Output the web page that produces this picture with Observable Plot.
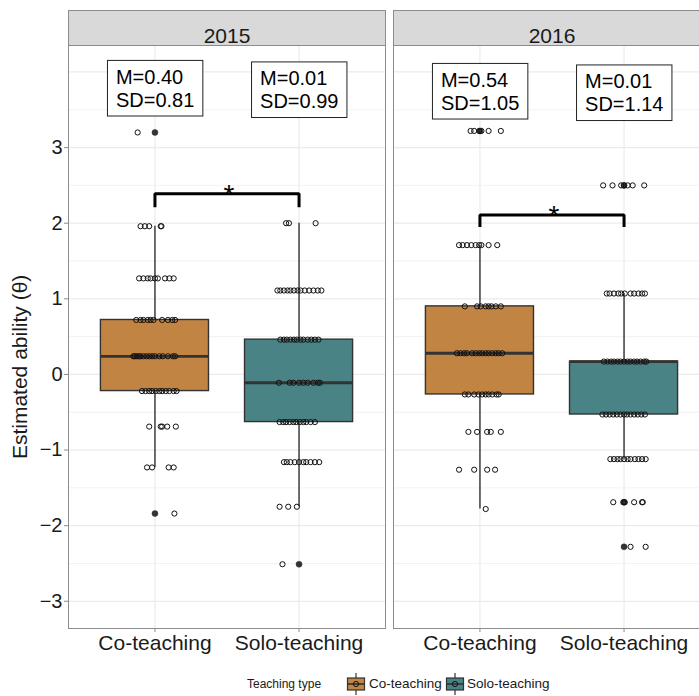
<!DOCTYPE html>
<html>
<head>
<meta charset="utf-8">
<script src="https://cdn.jsdelivr.net/npm/d3@7"></script>
<script src="https://cdn.jsdelivr.net/npm/@observablehq/plot@0.6"></script>
<style>
  html, body { margin: 0; padding: 0; background: #fff; overflow: hidden; }
  #chart { width: 699px; height: 668px; overflow: hidden; }
  #legend { position: relative; width: 699px; height: 28px; font-family: "Liberation Sans", Arial, sans-serif; color: #1a1a1a; }
  #legend span { position: absolute; white-space: nowrap; line-height: 16px; }
  #legend svg { position: absolute; }
</style>
</head>
<body>
<div id="chart"></div>
<div id="legend"></div>
<script>
// ---------- data ----------
const years = ["2015", "2016"];
const types = ["Co-teaching", "Solo-teaching"];
const typeColors = ["#C18442", "#4A8385"];
const yTicks = [-3, -2, -1, 0, 1, 2, 3];
const yMajorGrid = [-3, -2, -1, 0, 1, 2, 3, 4];
const yMinorGrid = [-2.5, -1.5, -0.5, 0.5, 1.5, 2.5, 3.5];

// box statistics, one entry per panel/group
const groupYear = ["2015", "2015", "2016", "2016"];
const groupType = ["Co-teaching", "Solo-teaching", "Co-teaching", "Solo-teaching"];
const whiskerLow = [-1.23, -1.75, -1.78, -1.12];
const q1 = [-0.22, -0.63, -0.265, -0.53];
const median = [0.24, -0.11, 0.28, 0.17];
const q3 = [0.72, 0.46, 0.90, 0.17];
const whiskerHigh = [1.96, 2.00, 1.71, 1.07];
const outliers = [[3.20, -1.84], [-2.51], [3.22], [2.50, -1.69, -2.28]];
const meanLabels = ["M=0.40", "M=0.01", "M=0.54", "M=0.01"];
const sdLabels = ["SD=0.81", "SD=0.99", "SD=1.05", "SD=1.14"];
const labelY = [3.79, 3.77, 3.75, 3.73];

// jittered observations: [ability level, horizontal jitter offsets]
const jitter2015Co = [
  [3.20, [-0.12]],
  [1.96, [-0.10, -0.07, -0.04, 0.04, 0.045]],
  [1.27, [-0.11, -0.08, -0.05, -0.03, 0, 0.02, 0.07, 0.10, 0.13]],
  [0.72, [-0.13, -0.10, -0.08, -0.05, -0.03, -0.01, 0.05, 0.09, 0.12, 0.14]],
  [0.24, [-0.15, -0.14, -0.125, -0.11, -0.10, -0.08, -0.06, -0.04, -0.02, 0, 0.03, 0.055, 0.09, 0.125, 0.14]],
  [-0.22, [-0.09, -0.065, -0.04, -0.02, 0.005, 0.03, 0.05, 0.075, 0.10, 0.13, 0.15]],
  [-0.69, [-0.04, 0.04, 0.05, 0.085, 0.145]],
  [-1.23, [-0.055, -0.02, 0.095, 0.13]],
  [-1.84, [0.135]]
];
const jitter2015Solo = [
  [2.00, [-0.09, -0.07, 0.115]],
  [1.11, [-0.15, -0.13, -0.105, -0.08, -0.06, -0.035, -0.01, 0.01, 0.04, 0.07, 0.10, 0.13, 0.155]],
  [0.46, [-0.13, -0.105, -0.085, -0.06, -0.035, -0.015, 0.01, 0.03, 0.06, 0.085, 0.11, 0.135]],
  [-0.11, [-0.14, -0.065, -0.04, 0, 0.03, 0.06, 0.10, 0.13, 0.145]],
  [-0.63, [-0.135, -0.11, -0.09, -0.065, -0.04, -0.02, 0.005, 0.03, 0.05, 0.08, 0.11]],
  [-1.16, [-0.105, -0.085, -0.06, -0.03, 0, 0.03, 0.05, 0.08, 0.11, 0.14]],
  [-1.75, [-0.135, -0.075, -0.015]],
  [-2.51, [-0.115]]
];
const jitter2016Co = [
  [3.22, [-0.065, -0.04, -0.005, 0.01, 0.06, 0.145]],
  [1.71, [-0.145, -0.12, -0.09, -0.06, -0.03, -0.005, 0.01, 0.06, 0.12]],
  [0.90, [-0.105, -0.02, 0.005, 0.04, 0.06, 0.08, 0.11, 0.145]],
  [0.28, [-0.16, -0.135, -0.11, -0.09, -0.055, -0.03, -0.005, 0.015, 0.04, 0.06, 0.085, 0.11, 0.13, 0.155]],
  [-0.265, [-0.105, -0.08, -0.04, -0.01, 0.015, 0.04, 0.06, 0.085, 0.115, 0.13]],
  [-0.76, [-0.08, -0.02, 0.05, 0.075, 0.145]],
  [-1.26, [-0.145, -0.04, 0.05, 0.105]],
  [-1.78, [0.04]]
];
const jitter2016Solo = [
  [2.50, [-0.145, -0.08, -0.02, 0, 0.025, 0.06, 0.14]],
  [1.07, [-0.12, -0.10, -0.07, -0.04, -0.02, 0.005, 0.045, 0.07, 0.10, 0.125, 0.145]],
  [0.17, [-0.14, -0.115, -0.09, -0.07, -0.045, -0.025, 0, 0.025, 0.045, 0.07, 0.09, 0.115, 0.14, 0.155]],
  [-0.53, [-0.15, -0.125, -0.10, -0.075, -0.05, -0.025, 0, 0.02, 0.045, 0.07, 0.095, 0.12, 0.145]],
  [-1.12, [-0.095, -0.07, -0.045, -0.025, 0, 0.025, 0.045, 0.075, 0.10, 0.125, 0.15]],
  [-1.69, [-0.075, -0.005, 0.005, 0.07, 0.125, 0.13]],
  [-2.28, [0.045, 0.15]]
];
const jitterGroups = [jitter2015Co, jitter2015Solo, jitter2016Co, jitter2016Solo];

// significance brackets
const sigYear = ["2015", "2016"];
const sigTop = [2.39, 2.11];
const sigTip = [2.21, 1.95];
const sigText = ["*", "*"];

// ---------- tables built from the arrays ----------
const groups = groupYear.map((year, i) => ({
  year, type: groupType[i], xi: types.indexOf(groupType[i]) + 1,
  lo: whiskerLow[i], q1: q1[i], med: median[i], q3: q3[i], hi: whiskerHigh[i],
  label: meanLabels[i] + "\n" + sdLabels[i], labelY: labelY[i]
}));
const outlierRows = groups.flatMap((g, i) => outliers[i].map(v => ({year: g.year, xi: g.xi, y: v})));
const points = groups.flatMap((g, i) =>
  jitterGroups[i].flatMap(([v, offs]) => offs.map(o => ({year: g.year, x: g.xi + o, y: v}))));
const bracketPts = sigYear.flatMap((year, i) => [
  {year, x: 1, y: sigTip[i]}, {year, x: 1, y: sigTop[i]},
  {year, x: 2, y: sigTop[i]}, {year, x: 2, y: sigTip[i]}
]);
const sigRows = sigYear.map((year, i) => ({year, x: 1.5, y: sigTop[i], text: sigText[i]}));

const fmt = d => d < 0 ? "\u2212" + Math.abs(d) : String(d);
const dark = "#333333";
const BOXW = 0.375;

const plot = Plot.plot({
  width: 712, height: 668,
  marginTop: 45, marginBottom: 40, marginLeft: 68, marginRight: 2,
  style: "max-width:none;overflow:visible;font-family:'Liberation Sans',Arial,sans-serif;background:#fff;",
  fx: {domain: years, paddingInner: 0.0246, paddingOuter: 0, round: false, axis: null, label: null},
  x: {domain: [0.4, 2.6], axis: null},
  y: {domain: [-3.36, 4.35], axis: null},
  color: {domain: types, range: typeColors},
  marks: [
    // strip header
    Plot.frame({fill: "#D9D9D9", stroke: "#8C8C8C", insetTop: -35, insetBottom: 583}),
    Plot.text(years, {fx: d => d, text: d => d, frameAnchor: "top", dy: -17.5, fontSize: 21, fill: "#1a1a1a"}),
    // grid
    Plot.ruleY(yMinorGrid, {stroke: "#EDEDED", strokeWidth: 0.7}),
    Plot.ruleY(yMajorGrid, {stroke: "#EBEBEB", strokeWidth: 1.2}),
    Plot.ruleX([1, 2], {stroke: "#EBEBEB", strokeWidth: 1.2}),
    Plot.frame({stroke: "#8C8C8C", strokeWidth: 1}),
    // axes
    Plot.axisY({ticks: yTicks, tickFormat: fmt, tickSize: 4, tickPadding: 2, fontSize: 20,
                stroke: "#8C8C8C", fill: "#1a1a1a", label: null}),
    Plot.axisX({ticks: [1, 2], tickFormat: i => types[i - 1], tickSize: 4, tickPadding: 3, fontSize: 21,
                stroke: "#8C8C8C", fill: "#1a1a1a", label: null}),
    Plot.text(["Estimated ability (\u03B8)"], {fx: () => "2015", frameAnchor: "left", y: () => 0.1,
                text: d => d, rotate: -90, textAnchor: "middle", dx: -48, fontSize: 21, fill: "#1a1a1a"}),
    // boxplots
    Plot.ruleX(groups, {fx: "year", x: "xi", y1: "lo", y2: "q1", stroke: dark, strokeWidth: 1.4}),
    Plot.ruleX(groups, {fx: "year", x: "xi", y1: "q3", y2: "hi", stroke: dark, strokeWidth: 1.4}),
    Plot.rect(groups, {fx: "year", x1: d => d.xi - BOXW, x2: d => d.xi + BOXW, y1: "q1", y2: "q3",
                       fill: "type", stroke: dark, strokeWidth: 1.4}),
    Plot.ruleY(groups, {fx: "year", x1: d => d.xi - BOXW, x2: d => d.xi + BOXW, y: "med", stroke: dark, strokeWidth: 2.8}),
    Plot.dot(outlierRows, {fx: "year", x: "xi", y: "y", r: 3, fill: dark, stroke: dark, strokeWidth: 0.5}),
    // jittered observations
    Plot.dot(points, {fx: "year", x: "x", y: "y", r: 2.6, fill: "none", stroke: "#111", strokeWidth: 1}),
    // mean / sd labels
    Plot.text(groups, {fx: "year", x: "xi", y: "labelY", text: "label", textAnchor: "start", dx: -39,
                       fontSize: 20, lineHeight: 1.15, fill: "#000"}),
    // significance brackets
    Plot.line(bracketPts, {fx: "year", x: "x", y: "y", z: "year", stroke: "#000", strokeWidth: 3,
                           strokeLinejoin: "miter", strokeLinecap: "butt"}),
    Plot.text(sigRows, {fx: "year", x: "x", y: "y", text: "text", fontSize: 28, dy: 1, dx: 2, fill: "#000"})
  ]
});

document.getElementById("chart").append(plot);

// boxes behind the mean/sd labels (like ggplot geom_label)
const svgns = "http://www.w3.org/2000/svg";
Array.from(plot.querySelectorAll("text"))
  .filter(t => t.textContent.includes("SD="))
  .forEach(t => {
    const bb = t.getBBox();
    const padX = 8.5, padY = 5.3;
    const r = document.createElementNS(svgns, "rect");
    r.setAttribute("x", bb.x - padX);
    r.setAttribute("y", bb.y - padY);
    r.setAttribute("width", bb.width + 2 * padX);
    r.setAttribute("height", bb.height + 2 * padY);
    r.setAttribute("fill", "#fff");
    r.setAttribute("stroke", "#222");
    r.setAttribute("stroke-width", 1);
    if (t.getAttribute("transform")) r.setAttribute("transform", t.getAttribute("transform"));
    t.parentNode.insertBefore(r, t);
  });

// legend (HTML, below the SVG)
const legend = document.getElementById("legend");
function keySvg(color) {
  return `<svg width="20" height="22" viewBox="0 0 20 22">
    <line x1="10" y1="0" x2="10" y2="22" stroke="${dark}" stroke-width="1.2"/>
    <rect x="1.5" y="5" width="17" height="12" fill="${color}" stroke="${dark}" stroke-width="1.2"/>
    <line x1="1.5" y1="11" x2="18.5" y2="11" stroke="${dark}" stroke-width="1.6"/>
    <circle cx="10" cy="11" r="2.6" fill="none" stroke="#111" stroke-width="1"/>
  </svg>`;
}
legend.innerHTML = `
  <span style="left:247px;top:8px;font-size:12px;">Teaching type</span>
  <div style="position:absolute;left:346px;top:5px;">${keySvg(typeColors[0])}</div>
  <span style="left:369px;top:8px;font-size:13.5px;">${types[0]}</span>
  <div style="position:absolute;left:445px;top:5px;">${keySvg(typeColors[1])}</div>
  <span style="left:467px;top:8px;font-size:13.5px;">${types[1]}</span>
`;
</script>
</body>
</html>
